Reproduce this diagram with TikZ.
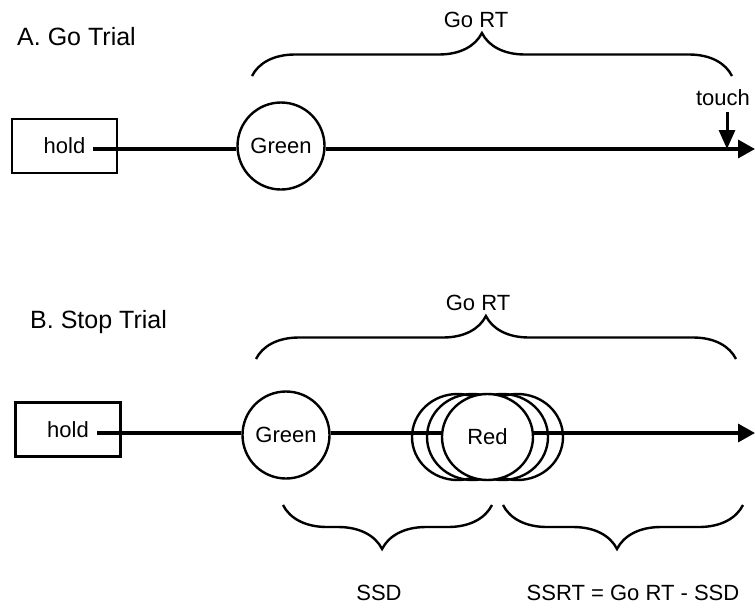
\documentclass[tikz,border=0pt]{standalone}
\usepackage{fontspec}
\setmainfont{Liberation Sans}
\usetikzlibrary{arrows.meta,decorations.pathreplacing,shapes.geometric}
\begin{document}
\begin{tikzpicture}[x=1pt,y=-1pt,
  every node/.style={font=\fontsize{22}{26}\selectfont},
  title/.style={font=\fontsize{25}{30}\selectfont, anchor=base west, inner sep=0pt},
  lbl/.style={anchor=base, inner sep=0pt},
  holdbox/.style={draw, line width=2.4pt, minimum width=105pt, minimum height=54pt, inner sep=0pt},
  stim/.style={draw, circle, line width=2.4pt, minimum size=87pt, inner sep=0pt, fill=white},
  redell/.style={draw, ellipse, line width=2.4pt, minimum width=91pt, minimum height=86pt, inner sep=0pt},
  mainline/.style={line width=3.4pt},
  mainarrow/.style={line width=3.4pt, -{Triangle[length=17pt,width=18pt]}},
  bracetop/.style={line width=2.4pt, decorate, decoration={brace, amplitude=43pt, aspect=0.479}},
  bracelow/.style={line width=2.4pt, decorate, decoration={brace, mirror, amplitude=44pt, aspect=#1}}
]
\useasboundingbox (0,0) rectangle (755,608);

% ---------------- A. Go Trial ----------------
\node[title] (titleA) at (17,45) {A. Go Trial};
\node[holdbox] (holdA) at (64.5,146) {hold};
\coordinate (hA) at (93,149);
\node[stim] (greenA) at (281,146) {Green};
\coordinate (endA) at (755,149);
\draw[mainline] (hA) -- (hA -| greenA.west);
\draw[mainarrow] (hA -| greenA.east) -- (endA);
\coordinate (bAl) at (252,76);
\coordinate (bAr) at (732,76);
\draw[bracetop] (bAl) -- (bAr);
\node[lbl] (gortA) at (476,27) {Go RT};
\node[lbl, inner sep=0pt] (touch) at (723,105) {touch};
\coordinate (tA) at (727,149);
\coordinate (tAs) at (727,112);
\draw[line width=3pt, -{Triangle[length=19pt,width=16pt]}] (tAs) -- (tA);

% ---------------- B. Stop Trial ----------------
\node[title] (titleB) at (30,328) {B. Stop Trial};
\node[holdbox] (holdB) at (68,429.5) {hold};
\coordinate (hB) at (97,433);
\node[stim] (greenB) at (286,435) {Green};
\coordinate (endB) at (755,433);
\node[redell] (r1) at (457.5,437) {};
\node[redell] (r2) at (472.5,437) {};
\node[redell] (r4) at (502.5,437) {};
\node[redell] (r5) at (517.5,437) {};
\draw[mainline] (hB) -- (hB -| greenB.west);
\draw[mainline] (hB -| greenB.east) -- (hB -| r1.west);
\draw[mainline] (hB -| r1.west) -- (hB -| r5.center);
\node[redell, fill=white] (red) at (487.5,437) {Red};
\draw[mainarrow] (hB -| red.east) -- (endB);
\coordinate (bBl) at (256,359);
\coordinate (bBr) at (736,359);
\draw[bracetop] (bBl) -- (bBr);
\node[lbl] (gortB) at (478,310) {Go RT};

% lower braces
\coordinate (sl) at (283,505);
\coordinate (sr) at (492,505);
\draw[bracelow=0.474] (sl) -- (sr);
\coordinate (ql) at (503,505);
\coordinate (qr) at (743,505);
\draw[bracelow=0.475] (ql) -- (qr);
\node[lbl] (ssd) at (379,600) {SSD};
\node[lbl] (ssrt) at (633,600) {SSRT = Go RT - SSD};
\end{tikzpicture}
\end{document}
